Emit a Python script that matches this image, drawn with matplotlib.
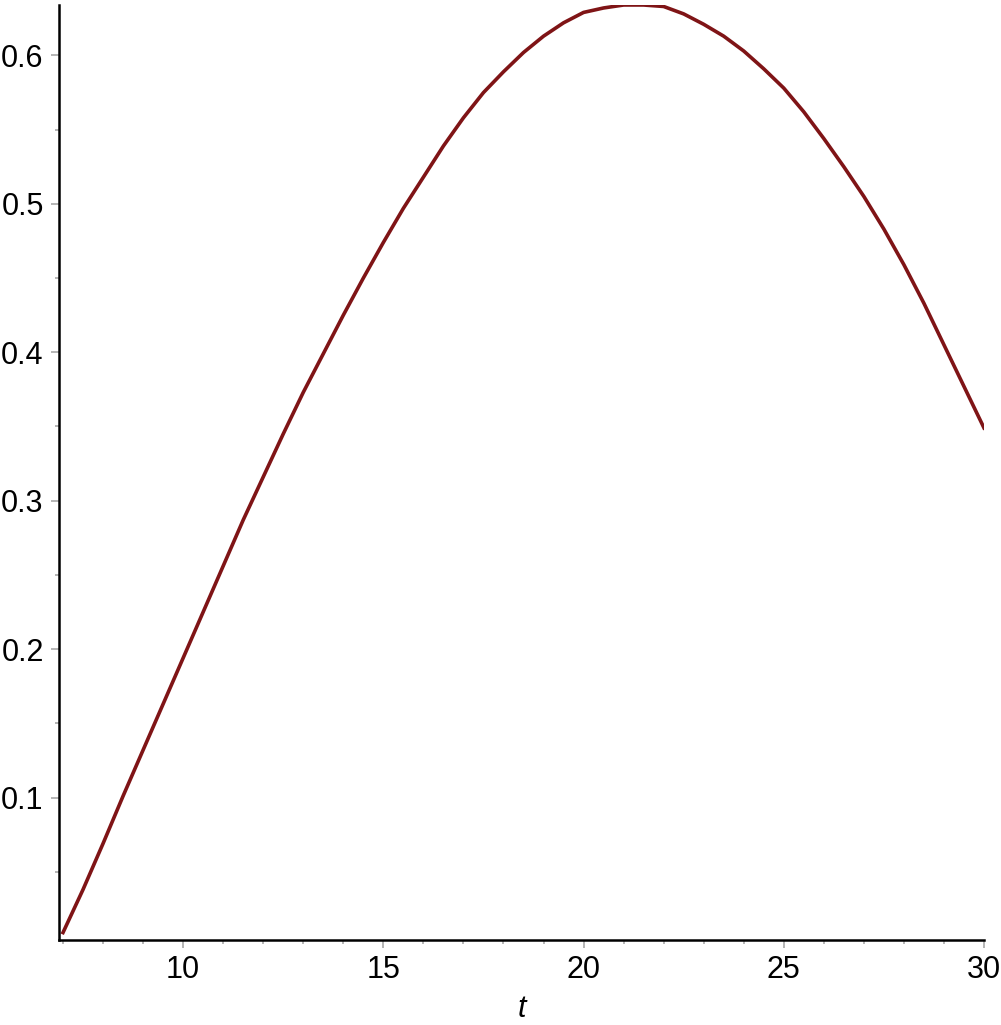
import matplotlib.pyplot as plt
import numpy as np
from matplotlib.ticker import MultipleLocator, FormatStrFormatter

# values
t = np.array([7, 7.5, 8, 8.5, 9, 9.5, 10, 10.5, 11, 11.5, 12, 12.5, 13, 13.5,
              14, 14.5, 15, 15.5, 16, 16.5, 17, 17.5, 18, 18.5, 19, 19.5, 20,
              20.5, 21, 21.5, 22, 22.5, 23, 23.5, 24, 24.5, 25, 25.5, 26,
              26.5, 27, 27.5, 28, 28.5, 29, 29.5, 30])
y = np.array([0.009, 0.038, 0.069, 0.101, 0.132, 0.163, 0.194, 0.225, 0.256,
              0.287, 0.316, 0.345, 0.373, 0.399, 0.425, 0.450, 0.474, 0.497,
              0.518, 0.539, 0.558, 0.575, 0.589, 0.602, 0.613, 0.622, 0.629,
              0.632, 0.634, 0.634, 0.633, 0.628, 0.621, 0.613, 0.603, 0.591,
              0.578, 0.562, 0.544, 0.525, 0.505, 0.483, 0.459, 0.433, 0.405,
              0.377, 0.349])

plt.rcParams['font.family'] = ['Liberation Sans', 'DejaVu Sans']

fig = plt.figure(figsize=(10.01, 10.25), dpi=100)
ax = fig.add_axes([59/1001, 85/1025, (984-59)/1001, (940-5)/1025])

ax.plot(t, y, color='#7f1416', linewidth=2.6, solid_joinstyle='round')

ax.set_xlim(6.9, 30)
ax.set_ylim(0.004, 0.634)

ax.xaxis.set_major_locator(MultipleLocator(5))
ax.xaxis.set_minor_locator(MultipleLocator(1))
ax.yaxis.set_major_locator(MultipleLocator(0.1))
ax.yaxis.set_minor_locator(MultipleLocator(0.05))
ax.yaxis.set_major_formatter(FormatStrFormatter('%.1f'))

for s in ['top', 'right']:
    ax.spines[s].set_visible(False)
for s in ['left', 'bottom']:
    ax.spines[s].set_linewidth(1.8)

ax.tick_params(which='major', length=6, width=1.1, color='#a0a0a0',
               labelsize=22, pad=5)
ax.tick_params(which='minor', length=3, width=1.1, color='#a0a0a0')

ax.set_xlabel('t', fontsize=22, style='italic', labelpad=6)

fig.savefig('out.png', dpi=100)
